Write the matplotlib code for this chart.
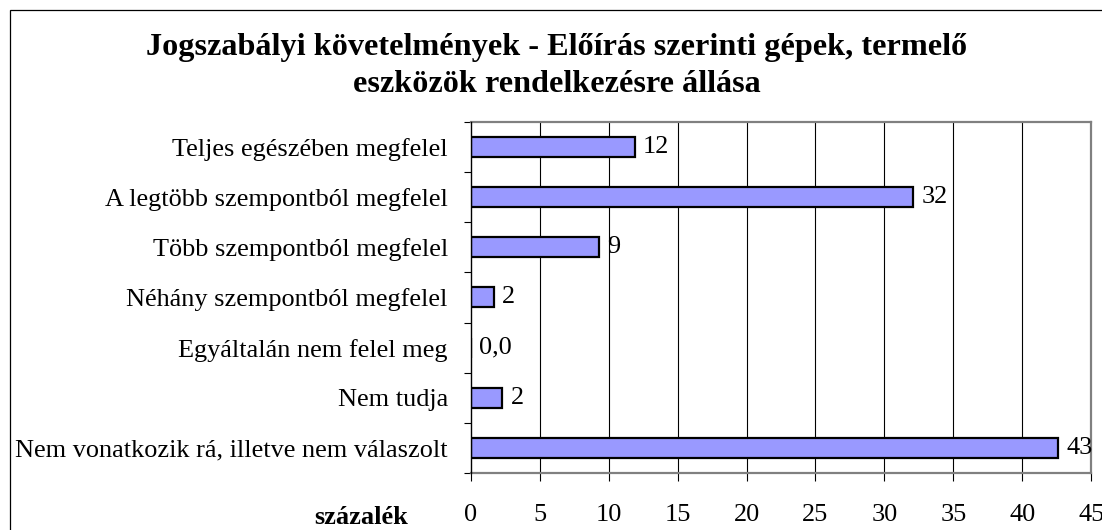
import matplotlib
matplotlib.use("Agg")
import matplotlib.pyplot as plt
from matplotlib.patches import Rectangle

plt.rcParams['font.family'] = ['Liberation Serif', 'DejaVu Serif']

categories = [
    "Teljes egészében megfelel",
    "A legtöbb szempontból megfelel",
    "Több szempontból megfelel",
    "Néhány szempontból megfelel",
    "Egyáltalán nem felel meg",
    "Nem tudja",
    "Nem vonatkozik rá, illetve nem válaszolt",
]
values = [11.9, 32.1, 9.3, 1.7, 0.0, 2.3, 42.6]
value_labels = ["12", "32", "9", "2", "0,0", "2", "43"]
xticks = [0, 5, 10, 15, 20, 25, 30, 35, 40, 45]
title = "Jogszabályi követelmények - Előírás szerinti gépek, termelő\neszközök rendelkezésre állása"
xlabel = "százalék"

W, H = 1102, 530
fig = plt.figure(figsize=(W / 100, H / 100), dpi=100)
fig.patch.set_facecolor('white')

left, right, top, bottom = 470.7, 1091.3, 121.5, 473.3
ax = fig.add_axes([left / W, 1 - bottom / H, (right - left) / W, (bottom - top) / H])

FS = 18.9

n = len(categories)
ypos = list(range(n))
ax.barh(ypos, values, height=0.4, color='#9999FF', edgecolor='black', linewidth=1.6, zorder=3)

ax.set_xlim(0, 45)
ax.set_ylim(n - 0.5, -0.5)
ax.set_xticks(xticks)
ax.set_xticklabels([str(t) for t in xticks], fontsize=FS)
ax.set_yticks(ypos)
ax.set_yticklabels(categories, fontsize=FS)
ax.tick_params(axis='y', which='major', length=0, pad=16.5)
ax.set_yticks([i + 0.5 for i in range(-1, n)], minor=True)
ax.tick_params(axis='y', which='minor', length=5, width=0.8, direction='out', color='black')
ax.tick_params(axis='x', length=6, width=0.8, direction='out', color='black', pad=16)

for x in xticks[1:-1]:
    ax.axvline(x, color='black', linewidth=0.8, zorder=1)

for s in ['top', 'right', 'bottom']:
    ax.spines[s].set_color('#808080')
    ax.spines[s].set_linewidth(1.6)
ax.spines['left'].set_color('black')
ax.spines['left'].set_linewidth(1.0)
ax.spines['left'].set_zorder(5)

px = 45 / (right - left)
for y, v, lab in zip(ypos, values, value_labels):
    ax.text(v + 8 * px, y, lab, va='center', ha='left', fontsize=FS, zorder=4)

fig.text(408 / W, 1 - 517 / H, xlabel, ha='right', va='center', fontsize=FS, fontweight='bold')
fig.text(557 / W, 1 - 66 / H, title, ha='center', va='center', fontsize=23.2,
         fontweight='bold', linespacing=1.36)

fig.patches.append(Rectangle((10 / W, -0.1), 1.2, 1 - 10 / H + 0.1, transform=fig.transFigure,
                             fill=False, edgecolor='black', linewidth=0.9))

fig.savefig('out.png', dpi=100)
